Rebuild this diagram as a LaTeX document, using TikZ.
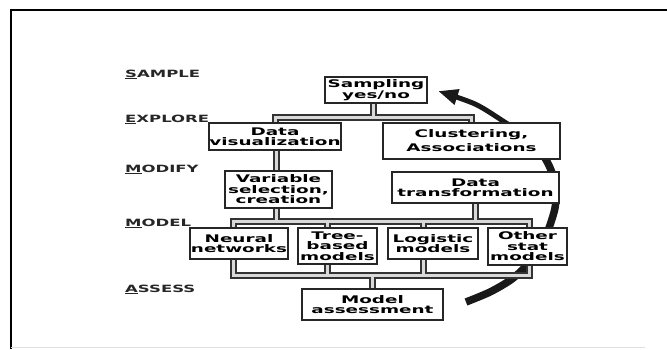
\documentclass[tikz,border=0pt]{standalone}
\usepackage{fontspec}
\newfontfamily\bx{DejaVu Sans}[FakeStretch=1.75]
\newfontfamily\lx{DejaVu Sans}[FakeStretch=1.65]
\usetikzlibrary{arrows.meta,shadows}
\pgfdeclarelayer{bg}
\pgfdeclarelayer{mid}
\pgfsetlayers{bg,mid,main}
\newcommand\myconns[1]{%
 \draw[#1] (dv.north) |- (cl.north |- eb) -- (cl.north);
 \draw[#1] (samp.south -| xs) -- (xs |- eb);
 \draw[#1] (dv.south -| xv) -- (var.north -| xv);
 \draw[#1] (nn.north -| xa) |- (xd |- mt) -- (os.north -| xd);
 \draw[#1] (tb.north -| xb) -- (xb |- mt);
 \draw[#1] (lg.north -| xc) -- (xc |- mt);
 \draw[#1] (var.south -| xv) -- (xv |- mt);
 \draw[#1] (dt.south) -- (dt.south |- mt);
 \draw[#1] (nn.south -| xa) |- (xd |- mb) -- (os.south -| xd);
 \draw[#1] (tb.south -| xb) -- (xb |- mb);
 \draw[#1] (lg.south -| xc) -- (xc |- mb);
 \draw[#1] (ma.north) -- (ma.north |- mb);
}
\tikzset{
 box/.style={draw=black!85, line width=2pt, fill=white, inner sep=0pt, align=center,
   font=\bx\bfseries\fontsize{10.5}{10.5}\selectfont,
   drop shadow={shadow xshift=1.3pt, shadow yshift=-1.3pt, fill=black!45, opacity=1}},
 lab/.style={anchor=base west, inner sep=0pt, text=black!85,
   font=\lx\bfseries\fontsize{10}{10}\selectfont},
 connO/.style={line width=7pt, draw=black!80},
 connI/.style={line width=3pt, draw=gray!30},
 arc/.style={draw=black!90, line cap=butt}
}
\begin{document}
\begin{tikzpicture}[x=1pt,y=-1pt]
\useasboundingbox (0,0) rectangle (667,349);
% frame
\draw[line width=2pt] (11,349) -- (11,10) -- (667,10);
\draw[gray!25, line width=1.5pt] (11,347.5) -- (645,347.5);
% labels
\node[lab] (lS) at (125,77) {\underline{S}AMPLE};
\node[lab] (lE) at (125,122) {\underline{E}XPLORE};
\node[lab] (lM) at (125,172) {\underline{M}ODIFY};
\node[lab] (lMo) at (125,226) {\underline{M}ODEL};
\node[lab] (lA) at (125,292) {\underline{A}SSESS};
% boxes
\node[box, minimum width=102pt, minimum height=26pt] (samp) at (376,90) {Sampling\\yes/no};
\node[box, minimum width=132pt, minimum height=27pt] (dv) at (275,136.5) {Data\\visualization};
\node[box, minimum width=177pt, minimum height=36pt, font=\bx\bfseries\fontsize{10.5}{14}\selectfont] (cl) at (471.5,141) {Clustering,\\Associations};
\node[box, minimum width=107pt, minimum height=37pt] (var) at (278.5,189.5) {Variable\\selection,\\creation};
\node[box, minimum width=167pt, minimum height=31pt] (dt) at (475.5,187.5) {Data\\transformation};
\node[box, minimum width=98pt, minimum height=31pt] (nn) at (239,243.5) {Neural\\networks};
\node[box, minimum width=79pt, minimum height=36pt] (tb) at (337.5,246) {Tree-\\based\\models};
\node[box, minimum width=90pt, minimum height=31pt] (lg) at (433,243.5) {Logistic\\models};
\node[box, minimum width=79pt, minimum height=37pt] (os) at (527.5,246.5) {Other\\stat\\models};
\node[box, minimum width=141pt, minimum height=31pt] (ma) at (372.5,304.5) {Model\\assessment};
% helper coordinates
\coordinate (xs) at (373,0);
\coordinate (xv) at (276,0);
\coordinate (xa) at (233,0);
\coordinate (xb) at (327,0);
\coordinate (xc) at (423,0);
\coordinate (xd) at (529,0);
\coordinate (eb) at (0,117.5);
\coordinate (mt) at (0,221.5);
\coordinate (mb) at (0,275);
% connectors
\begin{pgfonlayer}{mid}
 \myconns{connO}
 \myconns{connI}
\end{pgfonlayer}
% cycle arrow
\begin{pgfonlayer}{bg}
 \draw[arc, line width=7.5pt] plot[smooth] coordinates {(466,302) (490,292) (512,279) (530,262) (542,245) (549,228) (555,208) (556,190) (551,170) (541,152) (525,136)};
 \draw[arc, line width=5pt, -{Triangle[length=20pt,width=15pt]}] plot[smooth] coordinates {(541,152) (525,136) (503,121) (475,104) (438,91)};
\end{pgfonlayer}
\end{tikzpicture}
\end{document}
